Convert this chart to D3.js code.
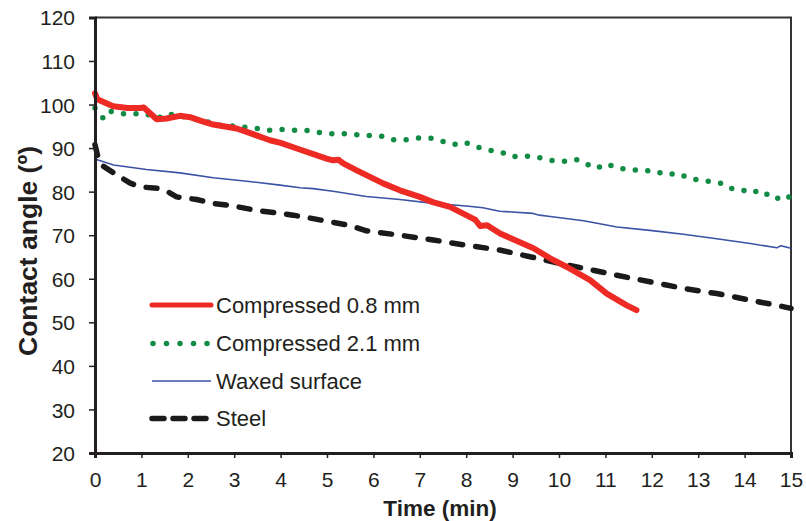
<!DOCTYPE html>
<html>
<head>
<meta charset="utf-8">
<script src="https://cdn.jsdelivr.net/npm/d3@7"></script>
<style>
    body { margin: 0; background: #fff; }
    svg { display: block; font-family: 'Liberation Sans', Arial, sans-serif; }
    .tick text { font-size: 21px; fill: #231f20; }
    .axis-title { font-weight: bold; fill: #231f20; }
    .legend text { font-size: 22px; fill: #231f20; }
</style>
</head>
<body>
<svg id="chart" width="806" height="521"></svg>
<script>
    'use strict';

    var xTicks = [ 0, 1, 2, 3, 4, 5, 6, 7, 8, 9, 10, 11, 12, 13, 14, 15 ],
        yTicks = [ 20, 30, 40, 50, 60, 70, 80, 90, 100, 110, 120 ];

    var seriesNames = [ 'Compressed 0.8 mm', 'Compressed 2.1 mm', 'Waxed surface', 'Steel' ];

    // Compressed 0.8 mm
    var redTime = [ 0, 0.05, 0.39, 0.7, 0.97, 1.05, 1.33, 1.54, 1.83, 2.05, 2.3, 2.55, 3.05, 3.27, 3.77, 4.0, 4.35, 4.99, 5.13, 5.25, 5.35, 5.64, 6.21, 6.57, 7.0, 7.28, 7.65, 8.0, 8.2, 8.3, 8.45, 8.73, 9.45, 9.81, 10.17, 10.67, 11.03, 11.46, 11.67 ],
        redAngle = [ 102.6, 101.2, 99.6, 99.2, 99.2, 99.3, 96.6, 96.8, 97.4, 97.1, 96.2, 95.4, 94.5, 93.7, 91.8, 91.2, 89.9, 87.6, 87.2, 87.3, 86.5, 84.9, 81.9, 80.3, 78.8, 77.6, 76.5, 74.6, 73.5, 72.1, 72.3, 70.4, 67.0, 64.7, 62.7, 59.7, 56.6, 53.9, 52.8 ];

    // Compressed 2.1 mm
    var greenTime = [ 0, 0.18, 0.3, 0.57, 0.82, 1.09, 1.34, 1.57, 1.76, 2.0, 2.3, 2.53, 2.76, 3.02, 3.27, 3.52, 3.76, 4.0, 4.27, 4.54, 4.81, 5.08, 5.35, 5.62, 5.9, 6.16, 6.43, 6.69, 6.95, 7.22, 7.47, 7.72, 7.97, 8.21, 8.48, 8.75, 8.99, 9.25, 9.5, 9.73, 9.93, 10.19, 10.37, 10.6, 10.8, 11.03, 11.26, 11.52, 11.78, 12.05, 12.3, 12.57, 12.82, 13.1, 13.36, 13.54, 13.74, 13.96, 14.18, 14.37, 14.57, 14.78, 14.98 ],
        greenAngle = [ 99.2, 96.8, 98.5, 97.9, 97.9, 97.9, 96.8, 97.9, 97.4, 97.1, 96.2, 95.8, 95.0, 95.1, 94.7, 94.5, 94.1, 94.3, 94.1, 94.1, 93.6, 93.3, 93.3, 93.1, 92.9, 92.8, 91.9, 91.9, 92.3, 92.3, 91.6, 90.8, 91.3, 90.3, 89.5, 89.1, 88.0, 88.2, 88.0, 87.4, 87.0, 87.0, 87.4, 86.3, 85.3, 86.4, 85.4, 85.1, 84.8, 84.8, 83.9, 84.2, 83.0, 82.5, 82.2, 81.8, 80.6, 80.2, 80.5, 79.1, 79.6, 78.0, 78.9 ];

    // Waxed surface
    var blueTime = [ 0, 0.4, 1.11, 1.83, 2.55, 3.27, 3.99, 4.42, 4.7, 5.13, 5.85, 6.57, 7.29, 8.0, 8.36, 8.72, 9.44, 9.58, 9.81, 10.53, 11.25, 11.96, 12.68, 13.4, 14.12, 14.7, 14.78, 15 ],
        blueAngle = [ 87.5, 86.1, 85.1, 84.3, 83.2, 82.4, 81.5, 80.9, 80.7, 80.1, 78.9, 78.2, 77.3, 76.7, 76.3, 75.5, 75.0, 74.6, 74.3, 73.3, 71.9, 71.1, 70.2, 69.2, 68.1, 67.1, 67.6, 67.0 ];

    // Steel
    var steelTime = [ 0, 0.05, 0.14, 0.3, 0.54, 0.75, 0.97, 1.4, 1.6, 1.76, 2.19, 2.55, 2.98, 3.48, 4.0, 4.27, 4.7, 5.06, 5.5, 5.85, 6.57, 7.29, 8.0, 8.72, 9.4, 10.02, 10.53, 11.25, 11.96, 12.68, 13.4, 14.12, 14.69, 15 ],
        steelAngle = [ 90.8, 88.5, 86.1, 85.0, 83.4, 82.0, 81.1, 80.7, 79.8, 78.8, 78.2, 77.3, 76.7, 75.7, 75.0, 74.6, 73.8, 73.1, 72.2, 71.0, 70.0, 68.9, 67.7, 66.6, 65.0, 63.5, 62.4, 60.8, 59.3, 57.8, 56.6, 55.1, 53.9, 53.2 ];

    function zip( times, values ){
        return times.map(function( t, i ){
            return { t: t, v: values[i] };
        });
    }

    var styles = [
        { color: '#ed2a24', width: 6, dash: null, cap: 'round' },
        { color: '#128c44', width: 5.5, dash: '0,12.5', cap: 'round' },
        { color: '#3a53a4', width: 1.6, dash: null, cap: 'butt' },
        { color: '#1b1a1a', width: 5.5, dash: '11,13', cap: 'round' }
    ];

    var series = [
        zip( redTime, redAngle ),
        zip( greenTime, greenAngle ),
        zip( blueTime, blueAngle ),
        zip( steelTime, steelAngle )
    ];

    var box = { left: 95, right: 791, top: 17.4, bottom: 453 };

    var svg = d3.select( '#chart' );

    var x = d3.scaleLinear()
        .domain( [ 0, 15 ] )
        .range( [ box.left, box.right ] );

    var y = d3.scaleLinear()
        .domain( [ 20, 120 ] )
        .range( [ box.bottom, box.top ] );

    var line = d3.line()
        .x(function( d ){ return x( d.t ); })
        .y(function( d ){ return y( d.v ); });

    // frame: top and right edges
    svg.append( 'path' )
        .attr( 'd', 'M' + box.left + ',' + box.top + 'H' + box.right + 'V' + box.bottom )
        .attr( 'fill', 'none' )
        .attr( 'stroke', '#333' )
        .attr( 'stroke-width', 2 );

    // plot series, steel first so red and green sit on top
    [ 3, 2, 1, 0 ].forEach(function( i ){
        var s = styles[i];
        svg.append( 'path' )
            .datum( series[i] )
            .attr( 'd', line )
            .attr( 'fill', 'none' )
            .attr( 'stroke', s.color )
            .attr( 'stroke-width', s.width )
            .attr( 'stroke-linecap', s.cap )
            .attr( 'stroke-linejoin', 'round' )
            .attr( 'stroke-dasharray', s.dash );
    });

    var xAxis = svg.append( 'g' )
        .attr( 'transform', 'translate(0,' + box.bottom + ')' )
        .call( d3.axisBottom( x ).tickValues( xTicks ).tickSize( 5 ).tickPadding( 13 ).tickFormat( d3.format( 'd' ) ) );

    var yAxis = svg.append( 'g' )
        .attr( 'transform', 'translate(' + box.left + ',0)' )
        .call( d3.axisLeft( y ).tickValues( yTicks ).tickSize( 6 ).tickPadding( 14 ).tickFormat( d3.format( 'd' ) ) );

    [ xAxis, yAxis ].forEach(function( a ){
        a.select( '.domain' ).attr( 'stroke', '#231f20' ).attr( 'stroke-width', 3 );
        a.selectAll( '.tick line' ).attr( 'stroke', '#231f20' ).attr( 'stroke-width', 1.5 );
        a.selectAll( '.tick text' ).attr( 'font-family', null ).attr( 'font-size', null );
    });
    xAxis.selectAll( '.tick text' ).attr( 'dy', '0.75em' );
    yAxis.selectAll( '.tick text' ).attr( 'dy', '0.36em' );

    svg.append( 'text' )
        .attr( 'class', 'axis-title' )
        .attr( 'x', 440 )
        .attr( 'y', 516 )
        .attr( 'font-size', 22.5 )
        .attr( 'text-anchor', 'middle' )
        .text( 'Time (min)' );

    svg.append( 'text' )
        .attr( 'class', 'axis-title' )
        .attr( 'transform', 'translate(37,' + 251 + ') rotate(-90)' )
        .attr( 'font-size', 26.5 )
        .attr( 'text-anchor', 'middle' )
        .text( 'Contact angle (º)' );

    // legend
    var legend = svg.append( 'g' )
        .attr( 'class', 'legend' )
        .attr( 'transform', 'translate(152,305)' );

    var rows = legend.selectAll( 'g' )
        .data( seriesNames )
        .enter().append( 'g' )
        .attr( 'transform', function( d, i ){ return 'translate(0,' + [ 0, 38.5, 76, 113.5 ][i] + ')'; });

    rows.append( 'line' )
        .attr( 'x1', function( d, i ){ return i === 1 ? 1 : 0; })
        .attr( 'x2', 59 )
        .attr( 'stroke', function( d, i ){ return styles[i].color; })
        .attr( 'stroke-width', function( d, i ){ return i === 0 ? 5 : styles[i].width; })
        .attr( 'stroke-linecap', function( d, i ){ return i === 2 ? 'butt' : 'round'; })
        .attr( 'stroke-dasharray', function( d, i ){ return [ null, '0,13.5', null, '12,9' ][i]; });

    rows.append( 'text' )
        .attr( 'x', 64 )
        .attr( 'dy', '0.36em' )
        .text(function( d ){ return d; });
</script>
</body>
</html>
